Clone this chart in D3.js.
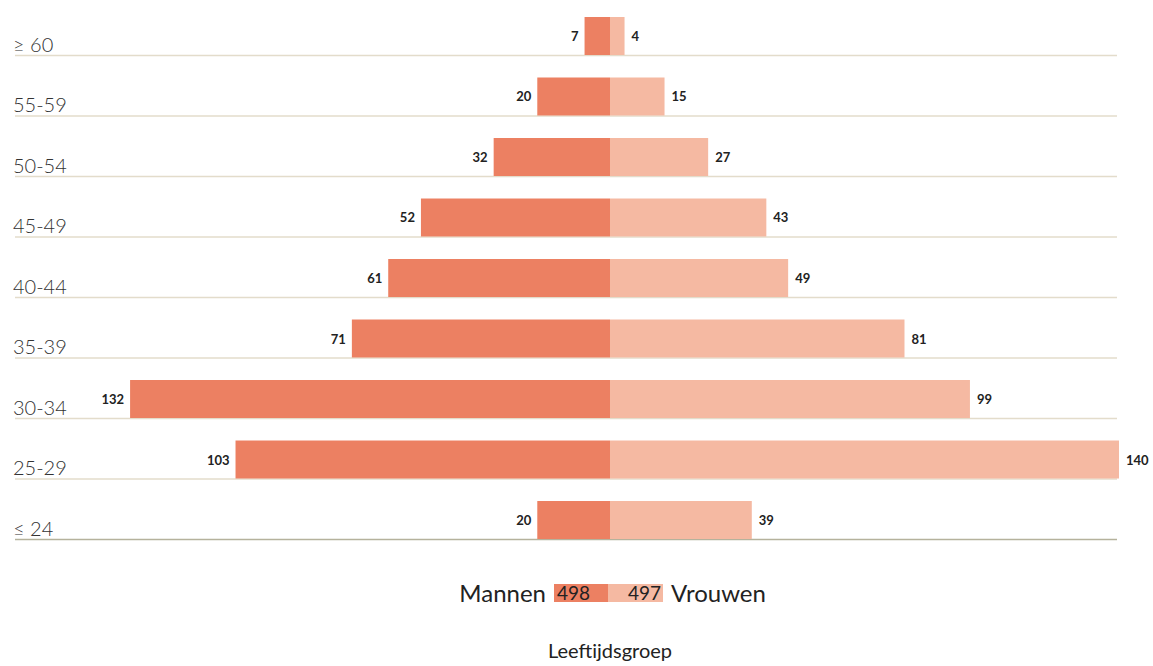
<!DOCTYPE html>
<html>
<head>
<meta charset="utf-8">
<script src="https://cdn.jsdelivr.net/npm/d3@7"></script>
<style>
  body { margin: 0; background: #fff; }
  svg { font-family: Lato, "Open Sans", sans-serif; }
</style>
</head>
<body>
<div id="chart"></div>
<script>
// data
const groups = ["≥ 60", "55-59", "50-54", "45-49", "40-44", "35-39", "30-34", "25-29", "≤ 24"];
const mannen = [7, 20, 32, 52, 61, 71, 132, 103, 20];
const vrouwen = [4, 15, 27, 43, 49, 81, 99, 140, 39];
const legendLabels = ["Mannen", "Vrouwen"];

const width = 1153, height = 666;
const center = 610;
const colMan = "#ec8062", colVrouw = "#f5b9a2";

const svg = d3.select("#chart").append("svg")
    .attr("width", width)
    .attr("height", height);

// schalen
const x = d3.scaleLinear().domain([0, 140]).range([0, 509]);
const y = d3.scaleBand().domain(groups).range([17, 539]).paddingInner(0.372).paddingOuter(0);
const rowBottom = d => y(d) + y.bandwidth();

// rasterlijnen
svg.selectAll(".grid")
    .data(groups)
    .enter()
    .append("line")
    .attr("x1", 15)
    .attr("x2", 1117)
    .attr("y1", d => rowBottom(d) + 0.5)
    .attr("y2", d => rowBottom(d) + 0.5)
    .attr("stroke", (d, i) => i === groups.length - 1 ? "#b5b29c" : "#e3dccb")
    .attr("stroke-width", 1.5);

// labels links
svg.selectAll(".cat")
    .data(groups)
    .enter()
    .append("text")
    .attr("x", 13)
    .attr("y", d => rowBottom(d) - 3)
    .attr("font-size", 20)
    .attr("font-weight", 300)
    .attr("fill", "#333")
    .text(d => d);

// balken mannen
svg.selectAll(".man")
    .data(groups)
    .enter()
    .append("rect")
    .attr("x", (d, i) => center - x(mannen[i]))
    .attr("y", d => y(d))
    .attr("width", (d, i) => x(mannen[i]))
    .attr("height", y.bandwidth())
    .attr("fill", colMan);

// balken vrouwen
svg.selectAll(".vrouw")
    .data(groups)
    .enter()
    .append("rect")
    .attr("x", center)
    .attr("y", d => y(d))
    .attr("width", (d, i) => x(vrouwen[i]))
    .attr("height", y.bandwidth())
    .attr("fill", colVrouw);

// waarden
svg.selectAll(".vman")
    .data(groups)
    .enter()
    .append("text")
    .attr("x", (d, i) => center - x(mannen[i]) - 6)
    .attr("y", d => y(d) + y.bandwidth() / 2 + 5)
    .attr("text-anchor", "end")
    .attr("font-size", 13)
    .attr("font-weight", 700)
    .attr("fill", "#222")
    .text((d, i) => mannen[i]);

svg.selectAll(".vvrouw")
    .data(groups)
    .enter()
    .append("text")
    .attr("x", (d, i) => center + x(vrouwen[i]) + 7)
    .attr("y", d => y(d) + y.bandwidth() / 2 + 5)
    .attr("font-size", 13)
    .attr("font-weight", 700)
    .attr("fill", "#222")
    .text((d, i) => vrouwen[i]);

// legenda
const totMan = d3.sum(mannen), totVrouw = d3.sum(vrouwen);
const leg = svg.append("g").attr("transform", "translate(0, 584)");
leg.append("rect").attr("x", 554).attr("y", 0).attr("width", 54).attr("height", 18).attr("fill", colMan);
leg.append("rect").attr("x", 608).attr("y", 0).attr("width", 55).attr("height", 18).attr("fill", colVrouw);
leg.append("text").attr("x", 557).attr("y", 16).attr("font-size", 19).attr("fill", "#222").text(totMan);
leg.append("text").attr("x", 661).attr("y", 16).attr("text-anchor", "end").attr("font-size", 19).attr("fill", "#222").text(totVrouw);
leg.append("text").attr("x", 546).attr("y", 18).attr("text-anchor", "end").attr("font-size", 24).attr("fill", "#222").text(legendLabels[0]);
leg.append("text").attr("x", 671).attr("y", 18).attr("font-size", 24).attr("fill", "#222").text(legendLabels[1]);

// as-titel
svg.append("text")
    .attr("x", 610)
    .attr("y", 658)
    .attr("text-anchor", "middle")
    .attr("font-size", 20)
    .attr("fill", "#222")
    .text("Leeftijdsgroep");
</script>
</body>
</html>
